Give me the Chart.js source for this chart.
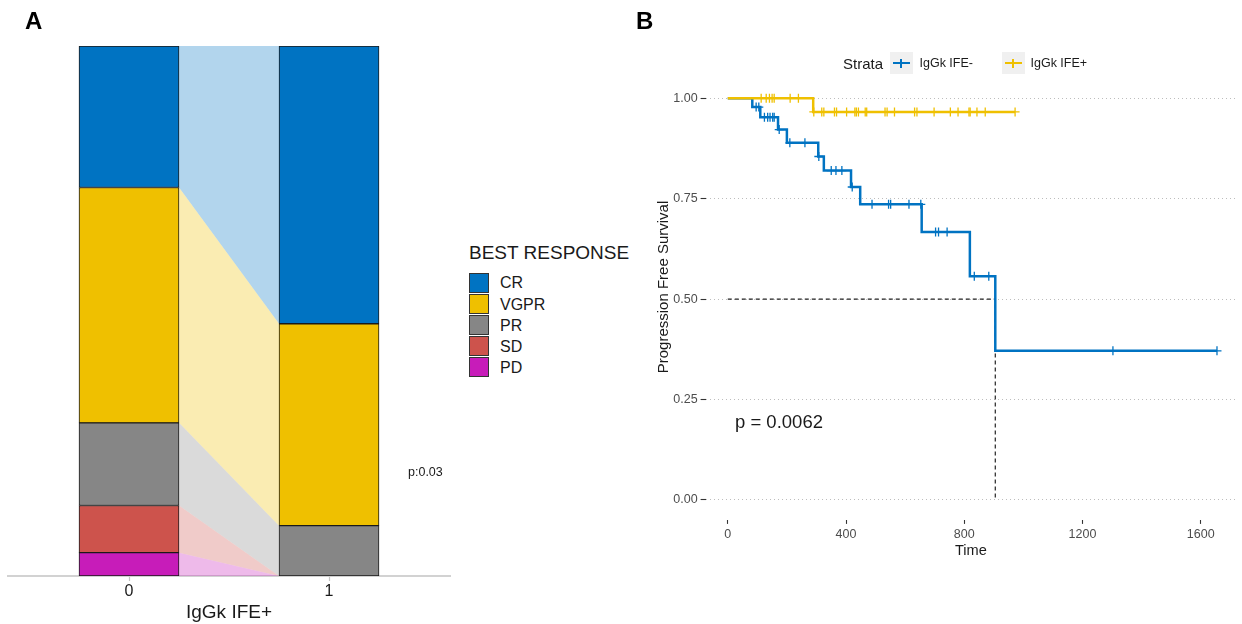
<!DOCTYPE html>
<html>
<head>
<meta charset="utf-8">
<script src="https://cdn.jsdelivr.net/npm/chart.js@4.4.1/dist/chart.umd.min.js"></script>
<style>
html,body{margin:0;padding:0;background:#fff;}
#wrap{position:relative;width:1242px;height:624px;overflow:hidden;font-family:"Liberation Sans",Arial,sans-serif;color:#1a1a1a;background:#fff;}
#wrap canvas{position:absolute;}
.t{position:absolute;white-space:nowrap;line-height:1;}
.box{position:absolute;box-sizing:border-box;border:1.5px solid #333;}
</style>
</head>
<body>
<div id="wrap">
  <canvas id="cA" width="460" height="624" style="left:0;top:0;width:460px;height:624px"></canvas>
  <canvas id="cB" width="602" height="565" style="left:640px;top:0;width:602px;height:565px"></canvas>
</div>
<script>
// ---------------- Panel A data ----------------
const responseCategories = ['CR', 'VGPR', 'PR', 'SD', 'PD'];
const groupValues = [0, 1];
const groupTickLabels = ['0', '1'];
const pctIFENeg = [26.7, 44.4, 15.6, 8.9, 4.4];   // group 0
const pctIFEPos = [52.4, 38.1, 9.5, 0, 0];       // group 1
const respColors = ['#0073C2', '#EFC000', '#868686', '#CD534C', '#C71CB9'];
const panelAxisTitle = 'IgGk IFE+';
const legendTitleA = 'BEST RESPONSE';
const pTextA = 'p:0.03';

// ---------------- Panel B data ----------------
const strataLabels = ['IgGk IFE-', 'IgGk IFE+'];
const strataColors = ['#0073C2', '#EFC000'];
const negEventTimes = [0, 83, 110, 170, 200, 306, 325, 417, 448, 656, 819, 905, 1655];
const negSurvival   = [1, 0.978, 0.953, 0.922, 0.889, 0.855, 0.820, 0.779, 0.736, 0.667, 0.557, 0.371, 0.371];
const negCensorTimes = [96, 105, 124, 135, 143, 152, 157, 174, 210, 261, 308, 350, 366, 386, 421,
                        488, 544, 551, 613, 653, 703, 713, 742, 834, 883, 1303, 1655];
const posEventTimes = [0, 289, 972];
const posSurvival   = [1, 0.966, 0.966];
const posCensorTimes = [113, 130, 141, 150, 157, 211, 239, 291, 318, 325, 361, 368, 402, 430, 435, 442,
                        465, 470, 532, 539, 564, 632, 640, 698, 753, 779, 816, 820, 843, 871, 972];
const medianTime = 905;
const medianLevel = 0.5;
const xTickValues = [0, 400, 800, 1200, 1600];
const yTickValues = [0, 0.25, 0.5, 0.75, 1.0];
const pTextB = 'p = 0.0062';

// ---------------- helpers ----------------
const FONT = '"Liberation Sans", Arial, sans-serif';
Chart.defaults.font.family = FONT;
const wrap = document.getElementById('wrap');
function alpha(hex, a) {
  const r = parseInt(hex.slice(1, 3), 16), g = parseInt(hex.slice(3, 5), 16), b = parseInt(hex.slice(5, 7), 16);
  return `rgba(${r},${g},${b},${a})`;
}
function addText(txt, left, capCenter, size, extra) {
  const d = document.createElement('div');
  d.className = 't';
  d.textContent = txt;
  d.style.left = left + 'px';
  d.style.top = (capCenter - 0.49 * size) + 'px';
  d.style.fontSize = size + 'px';
  if (extra) Object.assign(d.style, extra);
  wrap.appendChild(d);
  return d;
}
function survAt(times, surv, t) {
  let s = surv[0];
  for (let i = 0; i < times.length; i++) if (times[i] <= t) s = surv[i];
  return s;
}

// ---------------- Panel A chart ----------------
const stackOrder = [4, 3, 2, 1, 0]; // bottom → top : PD, SD, PR, VGPR, CR
const boundNeg = [0], boundPos = [0];
stackOrder.forEach(i => {
  boundNeg.push(boundNeg[boundNeg.length - 1] + pctIFENeg[i]);
  boundPos.push(boundPos[boundPos.length - 1] + pctIFEPos[i]);
});
const barHalf = 0.25; // half bar width in axis units (100px bar / 200px per unit)
const flowSets = boundNeg.map((b, k) => ({
  type: 'line', yAxisID: 'y2', xAxisID: 'x',
  data: [{x: groupValues[0] + barHalf, y: b}, {x: groupValues[1] - barHalf, y: boundPos[k]}],
  borderWidth: 0, pointRadius: 0, tension: 0,
  borderColor: 'rgba(0,0,0,0)',
  fill: k === 0 ? false : '-1',
  backgroundColor: k === 0 ? 'rgba(0,0,0,0)' : alpha(respColors[stackOrder[k - 1]], 0.3)
}));
const barSets = stackOrder.map(i => ({
  type: 'bar', yAxisID: 'y', xAxisID: 'x', stack: 's',
  label: responseCategories[i],
  data: [{x: groupValues[0], y: pctIFENeg[i]}, {x: groupValues[1], y: pctIFEPos[i]}].filter(d => d.y > 0),
  backgroundColor: respColors[i],
  borderColor: '#1a1a1a', borderWidth: 1, borderSkipped: false,
  barThickness: 100
}));

new Chart(document.getElementById('cA'), {
  type: 'bar',
  data: {datasets: [...flowSets, ...barSets]},
  options: {
    responsive: false, animation: false, devicePixelRatio: 1,
    layout: {padding: {left: 8, right: 10, top: 46, bottom: 0}},
    plugins: {legend: {display: false}, tooltip: {enabled: false}},
    scales: {
      x: {
        type: 'linear', min: -0.605, max: 1.605, offset: false, stacked: true,
        afterBuildTicks: s => { s.ticks = groupValues.map(v => ({value: v})); },
        afterFit: s => { s.height = 48; },
        grid: {display: true, drawOnChartArea: false, drawTicks: true, tickLength: 5,
               tickColor: '#c4c4c4', tickWidth: 1.2, offset: false},
        border: {display: true, color: '#d2d2d2', width: 2},
        ticks: {font: {size: 16}, color: '#1a1a1a', padding: 1, autoSkip: false, maxRotation: 0,
                callback: v => groupTickLabels[groupValues.indexOf(v)]},
        title: {display: true, text: panelAxisTitle, font: {size: 19}, color: '#1a1a1a',
                padding: {top: 0, bottom: 0}}
      },
      y: {type: 'linear', stacked: true, min: 0, max: 100, display: false},
      y2: {type: 'linear', min: 0, max: 100, display: false}
    }
  }
});

// Panel A legend + labels
addText('A', 25, 20.5, 24, {fontWeight: 'bold', color: '#000'});
addText(legendTitleA, 469, 252.3, 19);
responseCategories.forEach((c, i) => {
  const top = 273 + i * 21.1;
  const b = document.createElement('div');
  b.className = 'box';
  Object.assign(b.style, {left: '469px', top: top + 'px', width: '20px', height: '20px', background: respColors[i]});
  wrap.appendChild(b);
  addText(c, 500, top + 10.3, 16);
});
addText(pTextA, 408, 471.7, 12.5);

// ---------------- Panel B chart ----------------
const negLine = negEventTimes.map((t, i) => ({x: t, y: negSurvival[i]}));
const posLine = posEventTimes.map((t, i) => ({x: t, y: posSurvival[i]}));
const negCens = negCensorTimes.map(t => ({x: t, y: survAt(negEventTimes, negSurvival, t)}));
const posCens = posCensorTimes.map(t => ({x: t, y: survAt(posEventTimes, posSurvival, t)}));

new Chart(document.getElementById('cB'), {
  type: 'line',
  data: {
    datasets: [
      {type: 'scatter', data: posCens, showLine: false, pointStyle: 'cross', pointRadius: 4.5,
       pointBorderWidth: 1.3, pointBorderColor: strataColors[1], pointBackgroundColor: strataColors[1]},
      {data: posLine, stepped: true, borderColor: strataColors[1], borderWidth: 2.5, pointRadius: 0, fill: false},
      {type: 'scatter', data: negCens, showLine: false, pointStyle: 'cross', pointRadius: 4.5,
       pointBorderWidth: 1.3, pointBorderColor: strataColors[0], pointBackgroundColor: strataColors[0]},
      {data: negLine, stepped: true, borderColor: strataColors[0], borderWidth: 2.5, pointRadius: 0, fill: false},
      {data: [{x: 0, y: medianLevel}, {x: medianTime, y: medianLevel}, {x: medianTime, y: 0}],
       borderColor: '#222', borderWidth: 1.2, borderDash: [4, 3], pointRadius: 0, fill: false, tension: 0}
    ]
  },
  options: {
    responsive: false, animation: false, devicePixelRatio: 1,
    layout: {padding: {left: 0, right: 0, top: 78.2, bottom: 0}},
    plugins: {legend: {display: false}, tooltip: {enabled: false}},
    scales: {
      x: {
        type: 'linear', min: -75, max: 1720,
        afterBuildTicks: s => { s.ticks = xTickValues.map(v => ({value: v})); },
        afterFit: s => { s.height = 45.1; },
        grid: {display: true, drawOnChartArea: false, drawTicks: true, tickLength: 4,
               tickColor: '#333', tickWidth: 1.1},
        border: {display: false},
        ticks: {font: {size: 12.5}, color: '#4d4d4d', padding: 3, autoSkip: false, maxRotation: 0,
                callback: v => String(v)},
        title: {display: true, text: 'Time', font: {size: 14.6}, color: '#1a1a1a', padding: {top: 0, bottom: 5}}
      },
      y: {
        type: 'linear', min: -0.05, max: 1.05,
        afterBuildTicks: s => { s.ticks = yTickValues.map(v => ({value: v})); },
        afterFit: s => { s.width = 65.6; },
        grid: {display: true, color: '#bdbdbd', lineWidth: 1, drawTicks: true, tickLength: 5,
               tickColor: '#333', tickWidth: 1.1, tickBorderDash: []},
        border: {display: false, dash: [1, 3]},
        ticks: {font: {size: 12.5}, color: '#4d4d4d', padding: 3, autoSkip: false,
                callback: v => Number(v).toFixed(2)}
      }
    }
  }
});

// Panel B labels and legend
addText('B', 636, 20.5, 24, {fontWeight: 'bold', color: '#000'});
addText(pTextB, 735, 421.7, 18.5);
const yt = document.createElement('div');
yt.className = 't';
yt.textContent = 'Progression Free Survival';
Object.assign(yt.style, {left: '661.8px', top: '286.7px', fontSize: '15px',
  transform: 'translate(-50%,-50%) rotate(-90deg)'});
wrap.appendChild(yt);

addText('Strata', 843, 63, 15);
const keyLefts = [889.5, 1001.5];
const labelLefts = [919.5, 1030.5];
strataLabels.forEach((lab, i) => {
  const k = document.createElement('div');
  Object.assign(k.style, {position: 'absolute', left: keyLefts[i] + 'px', top: '52px', width: '23px', height: '22px', background: '#f0f0f0'});
  const h = document.createElement('div');
  Object.assign(h.style, {position: 'absolute', left: '3px', top: '9.8px', width: '17px', height: '2.5px', background: strataColors[i]});
  const v = document.createElement('div');
  Object.assign(v.style, {position: 'absolute', left: '10.8px', top: '6.5px', width: '1.4px', height: '9px', background: strataColors[i]});
  k.appendChild(h); k.appendChild(v);
  wrap.appendChild(k);
  addText(lab, labelLefts[i], 63, 12.5);
});
</script>
</body>
</html>
